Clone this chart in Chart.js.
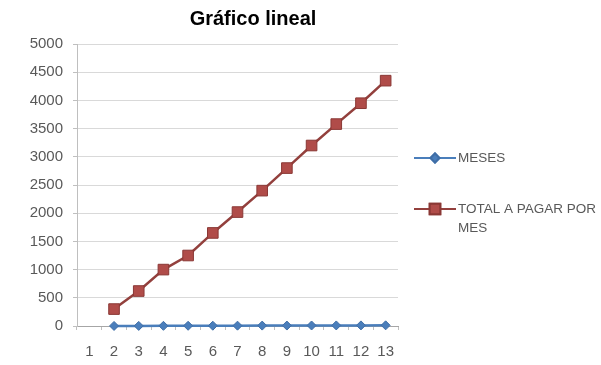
<!DOCTYPE html>
<html>
<head>
<meta charset="utf-8">
<script src="https://cdn.jsdelivr.net/npm/chart.js@4/dist/chart.umd.min.js"></script>
<style>
  html, body { margin: 0; padding: 0; background: #fff; }
  #wrap { width: 601px; height: 365px; position: relative; }
</style>
</head>
<body>
<div id="wrap"><canvas id="c" width="601" height="365"></canvas></div>
<script>
// Categories along the x axis
const categories = ['1', '2', '3', '4', '5', '6', '7', '8', '9', '10', '11', '12', '13'];
// Month number series (first category empty)
const meses = [null, 1, 2, 3, 4, 5, 6, 7, 8, 9, 10, 11, 12];
// Total to pay per month
const totalPorMes = [null, 300, 620, 1000, 1250, 1650, 2020, 2400, 2800, 3200, 3580, 3950, 4350];
// Y axis range and step
const yMin = 0, yMax = 5000, yStep = 500;

const seriesNames = ['MESES', ['TOTAL A PAGAR POR', 'MES']];

const BLUE = '#4A7EBB';
const RED_LINE = '#93403D';
const RED_FILL = '#B04C49';
const RED_EDGE = '#8A3835';
const FONT = '"Liberation Sans", Arial, sans-serif';

// Title drawn centred over the whole chart block
const titlePlugin = {
  id: 'titleText',
  afterDraw(chart) {
    const ctx = chart.ctx;
    ctx.save();
    ctx.font = 'bold 20px ' + FONT;
    ctx.fillStyle = '#000';
    ctx.textAlign = 'center';
    ctx.textBaseline = 'middle';
    ctx.fillText('Gráfico lineal', 253, 19);
    ctx.restore();
  }
};

// Side legend with line samples and point markers
const sideLegend = {
  id: 'sideLegend',
  afterDraw(chart) {
    const ctx = chart.ctx;
    const items = [
      { ds: chart.data.datasets[0], y: 158, lines: [seriesNames[0]] },
      { ds: chart.data.datasets[1], y: 209, lines: seriesNames[1] }
    ];
    ctx.save();
    items.forEach(it => {
      ctx.strokeStyle = it.ds.borderColor;
      ctx.lineWidth = 2;
      ctx.beginPath();
      ctx.moveTo(414, it.y);
      ctx.lineTo(456, it.y);
      ctx.stroke();
      Chart.helpers.drawPoint(ctx, {
        pointStyle: it.ds.pointStyle,
        radius: it.ds.pointRadius,
        borderWidth: 1
      }, 435, it.y);
      ctx.fillStyle = it.ds.pointBackgroundColor;
      ctx.strokeStyle = it.ds.pointBorderColor;
      ctx.fill();
      ctx.stroke();
      ctx.fillStyle = '#595959';
      ctx.font = '13.5px ' + FONT;
      ctx.textAlign = 'left';
      ctx.textBaseline = 'middle';
      it.lines.forEach((t, i) => ctx.fillText(t, 458, it.y + i * 19));
    });
    ctx.restore();
  }
};

new Chart(document.getElementById('c'), {
  type: 'line',
  data: {
    labels: categories,
    datasets: [
      {
        label: 'MESES',
        data: meses,
        borderColor: BLUE,
        borderWidth: 2.5,
        pointStyle: 'rectRot',
        pointRadius: 4.5,
        pointBackgroundColor: BLUE,
        pointBorderColor: '#3F6EA6',
        pointBorderWidth: 1,
        tension: 0,
        clip: false
      },
      {
        label: 'TOTAL A PAGAR POR MES',
        data: totalPorMes,
        borderColor: RED_LINE,
        borderWidth: 2.5,
        pointStyle: 'rect',
        pointRadius: 7.5,
        pointBackgroundColor: RED_FILL,
        pointBorderColor: RED_EDGE,
        pointBorderWidth: 1,
        tension: 0,
        clip: false
      }
    ]
  },
  options: {
    responsive: false,
    animation: false,
    devicePixelRatio: 1,
    layout: { padding: { top: 44, right: 203, left: 0, bottom: 0 } },
    plugins: {
      legend: { display: false },
      title: { display: false },
      tooltip: { enabled: false }
    },
    scales: {
      x: {
        type: 'category',
        offset: true,
        grid: {
          offset: true,
          drawOnChartArea: false,
          drawTicks: true,
          tickLength: 4,
          color: '#BFBFBF'
        },
        border: { display: true, color: '#A6A6A6', width: 1 },
        ticks: {
          color: '#595959',
          font: { family: FONT, size: 15 },
          padding: 13,
          maxRotation: 0,
          autoSkip: false
        },
        afterFit(scale) { scale.height = 39; }
      },
      y: {
        min: yMin,
        max: yMax,
        ticks: {
          stepSize: yStep,
          color: '#595959',
          font: { family: FONT, size: 15 },
          padding: 10,
          callback: (v) => String(v)
        },
        grid: {
          color: '#D9D9D9',
          tickLength: 4,
          tickColor: '#BFBFBF'
        },
        border: { display: true, color: '#BFBFBF', width: 1 },
        afterFit(scale) { scale.width = 77; }
      }
    }
  },
  plugins: [titlePlugin, sideLegend]
});
</script>
</body>
</html>
